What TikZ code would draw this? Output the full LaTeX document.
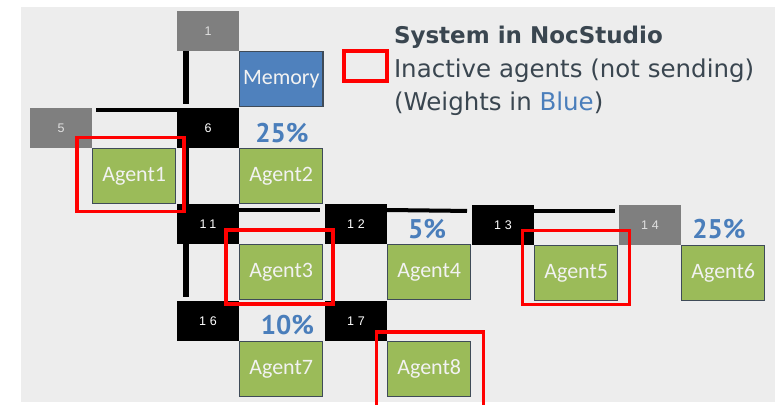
\documentclass[tikz,border=0pt]{standalone}
\usepackage{fontspec}
\setmainfont{PT Sans}
\newfontfamily\agentfont{Carlito}
\newfontfamily\legendfont{DejaVu Sans}
\newfontfamily\routerfont[LetterSpace=30]{Liberation Sans}
\usetikzlibrary{positioning}
\definecolor{bggray}{HTML}{EDEDED}
\definecolor{routergray}{HTML}{7F7F7F}
\definecolor{agentgreen}{HTML}{9BBB59}
\definecolor{agentedge}{HTML}{3F4B58}
\definecolor{memblue}{HTML}{4F81BD}
\definecolor{weightblue}{HTML}{4A7EBB}
\definecolor{legendtext}{HTML}{3A4650}

\begin{document}
\begin{tikzpicture}[x=1pt, y=-1pt, node distance=0pt, outer sep=0pt]
    \tikzset{
      router/.style={fill=black, text=white, minimum width=62pt, minimum height=40pt,
        inner sep=0pt, anchor=north west, font=\routerfont\fontsize{12.5}{12.5}\selectfont},
      idle/.style={router, fill=routergray, text=black!12},
      agent/.style={draw=agentedge, line width=1.5pt, fill=agentgreen, text=white!95!black,
        minimum width=83pt, minimum height=55pt, font=\agentfont\fontsize{22}{22}\selectfont},
      weight/.style={text=weightblue, inner sep=0pt, font=\bfseries\fontsize{27}{27}\selectfont},
      legend/.style={text=legendtext, inner sep=0pt, anchor=base west, font=\legendfont\fontsize{24.5}{24.5}\selectfont},
      link/.style={line width=4pt},
      uplink/.style={line width=6pt},
      inactive/.style={draw=red, line width=3.5pt, minimum width=107pt, minimum height=74pt}
    }
    \useasboundingbox (0,0) rectangle (775,404);
    \fill[white] (0,0) rectangle (775,404);
    \fill[bggray] (21,7) rectangle (775,402);
    % routers
    \node[idle] (r1) at (177,11) {1};
    \node[idle] (r5) at (30,108) {5};
    \node[router] (r6) at (177,108) {6};
    \node[router] (r11) at (177,204) {11};
    \node[router] (r12) at (325,204) {12};
    \node[router] (r13) at (472,205) {13};
    \node[idle] (r14) at (619,205) {14};
    \node[router] (r16) at (177,301) {16};
    \node[router] (r17) at (325,301) {17};
    % agents
    \node[agent, fill=memblue, below right=1pt of r1] (mem) {Memory};
    \node[agent, below right=1pt of r5] (a1) {Agent1};
    \node[agent, below right=1pt of r6] (a2) {Agent2};
    \node[agent, below right=1pt of r11] (a3) {Agent3};
    \node[agent, below right=1pt of r12] (a4) {Agent4};
    \node[agent, below right=1pt of r13] (a5) {Agent5};
    \node[agent, below right=1pt of r14] (a6) {Agent6};
    \node[agent, below right=1pt of r16] (a7) {Agent7};
    \node[agent, below right=1pt of r17] (a8) {Agent8};
    \node[weight] (w2) at (282,133) {25\%};
    \node[weight] (w4) at (427,229.5) {5\%};
    \node[weight] (w6) at (719,229.5) {25\%};
    \node[weight] (w7) at (287.5,325) {10\%};
    % links
    \draw[uplink, shorten >=4pt] ([xshift=9pt]r1.south west) -- ([xshift=9pt]r6.north west);
    \draw[link] ([xshift=4pt,yshift=-2pt]r5.north east) -- ([yshift=-2pt]r6.north west);
    \draw[uplink] ([xshift=9pt]r6.south west) -- ([xshift=9pt]r11.north west);
    \draw[link, shorten >=5pt] ([yshift=-6pt]r11.north east) -- ([yshift=-6pt]r12.north west);
    \draw[link, shorten >=5pt] ([yshift=-6pt]r12.north east) -- ([yshift=-6pt]r13.north west);
    \draw[link, shorten >=4pt] ([yshift=-6pt]r13.north east) -- ([yshift=-6pt]r14.north west);
    \draw[uplink, shorten >=4pt] ([xshift=9pt]r11.south west) -- ([xshift=9pt]r16.north west);
    % not sending
    \node[inactive] (off1) at ([shift={(-3.5,-1.5)}]a1.center) {};
    \node[inactive] (off3) at ([shift={(-1.5,-5)}]a3.center) {};
    \node[inactive] (off5) at ([shift={(0,-5.5)}]a5.center) {};
    \node[inactive, minimum height=90pt] (off8) at ([shift={(1,8)}]a8.center) {};
    % legend
    \node[inactive, minimum width=43pt, minimum height=30pt] (key) at (365.5,66) {};
    \node[legend, font=\legendfont\bfseries\fontsize{23}{23}\selectfont] (title) at (394,44) {System in NocStudio};
    \node[legend] (keytext) at (394,77) {Inactive agents (not sending)};
    \node[legend] (note) at (394,110) {(Weights in \textcolor{weightblue}{Blue})};
\end{tikzpicture}
\end{document}
